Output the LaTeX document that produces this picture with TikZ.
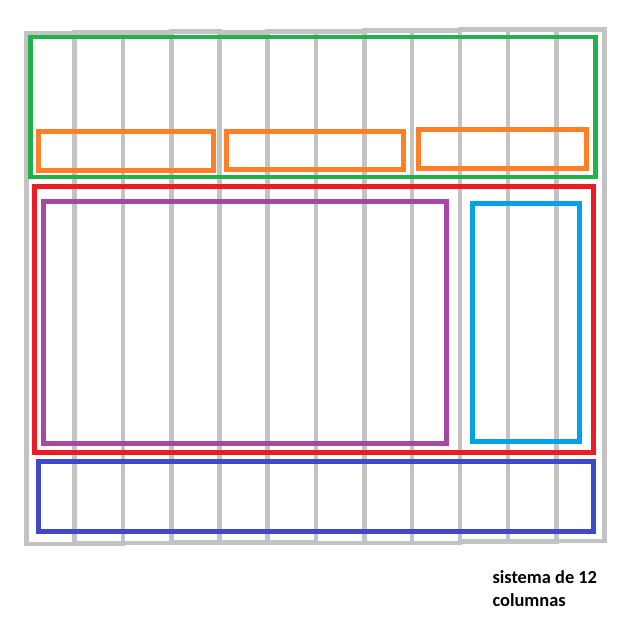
\documentclass[tikz,border=0pt]{standalone}
\usepackage{fontspec}
\setmainfont{Carlito}
\definecolor{gridgray}{HTML}{C3C3C3}
\definecolor{cgreen}{HTML}{22B14C}
\definecolor{corange}{HTML}{FF7F27}
\definecolor{cred}{HTML}{ED1C24}
\definecolor{cpurple}{HTML}{A349A4}
\definecolor{ccyan}{HTML}{00A2E8}
\definecolor{cblue}{HTML}{3F48CC}
\tikzset{
  gridcol/.style={draw=gridgray,line width=4.8pt},
  zone/.style={line width=4.8pt},
  caption/.style={font=\fontsize{18.4pt}{22.5pt}\selectfont\bfseries,inner sep=0pt,anchor=base west}
}
\begin{document}
\begin{tikzpicture}[x=1pt,y=-1pt]
\useasboundingbox (0,0) rectangle (643,623);
% grid columns
\foreach \xa/\xb/\t/\b in {
  26.5/74.5/33.5/544,
  74.5/123/32.5/543.5,
  123/171.5/32.5/543,
  171.5/219.5/31.5/542.5,
  219.5/267.5/32.3/542.5,
  267.5/316/31.5/542.5,
  316/364.5/31.5/543,
  364.5/412/30.5/543,
  412/460/30.5/543,
  460/508/29.5/541.7,
  508/556.5/29.5/541.7,
  556.5/604.5/29.5/541}
  \draw[gridcol] (\xa,\t) rectangle (\xb,\b);
% header
\draw[zone,cgreen] (30.3,37) rectangle (595.5,177);
\draw[zone,corange] (38.3,131.3) rectangle (213.3,170.3);
\draw[zone,corange] (226.5,131.3) rectangle (403.5,169.2);
\draw[zone,corange] (418.3,129.5) rectangle (586.5,168.3);
% body
\draw[zone,cred] (34.3,186.3) rectangle (593.3,452.3);
\draw[zone,cpurple] (43.3,201.5) rectangle (446.7,443.7);
\draw[zone,ccyan] (472.5,203.5) rectangle (579.2,441.3);
% footer
\draw[zone,cblue] (38.3,461.7) rectangle (593.2,531.3);
% caption
\node[caption] (cap1) at (492.3,583.7) {sistema de 12};
\node[caption] (cap2) at (492.3,606) {columnas};
\end{tikzpicture}
\end{document}
